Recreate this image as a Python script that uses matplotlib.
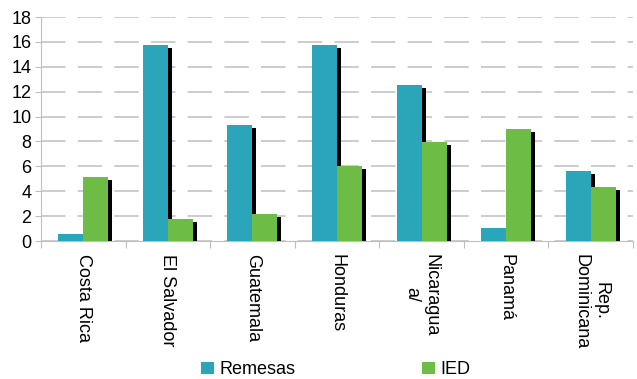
import matplotlib
matplotlib.use('Agg')
import matplotlib.pyplot as plt
import numpy as np

plt.rcParams['font.family'] = ['Liberation Sans', 'DejaVu Sans']

COUNTRIES = ['Costa Rica', 'El Salvador', 'Guatemala', 'Honduras',
             'Nicaragua\na/', 'Panamá', 'Rep.\nDominicana']
REMESAS = [0.6, 15.75, 9.3, 15.75, 12.55, 1.05, 5.65]
IED = [5.15, 1.75, 2.15, 6.0, 7.95, 9.0, 4.3]

TEAL = '#2ba5ba'
GREEN = '#6cbc45'
GRID = '#bfbfbf'

fig = plt.figure(figsize=(6.37, 3.79), dpi=100)
ax = fig.add_axes([41 / 637, 1 - 241 / 379, 592 / 637, 224 / 379])

x = np.arange(len(COUNTRIES))
w = 0.295
xr = x - w / 2
xi = x + w / 2

# drop shadows (offset right / down), drawn under every bar
dx, dy = 4 / 84.6, 3 / 12.44
for xs, vals in ((xr, REMESAS), (xi, IED)):
    hs = [max(v - dy, 0) for v in vals]
    ax.bar(xs + dx, hs, w, color='black', zorder=2)

ax.bar(xr, REMESAS, w, color=TEAL, label='Remesas', zorder=3)
ax.bar(xi, IED, w, color=GREEN, label='IED', zorder=3)

ax.set_xlim(-0.5, len(COUNTRIES) - 0.5)
ax.set_ylim(0, 18)
ax.set_yticks(range(0, 19, 2))
ax.yaxis.grid(True, linestyle=(0, (16, 8)), color=GRID, linewidth=1.1, zorder=0)
ax.set_axisbelow(True)

ax.set_xticks(np.arange(-0.5, len(COUNTRIES), 1.0))
ax.set_xticklabels([])
ax.set_xticks(x, minor=True)
ax.set_xticklabels(COUNTRIES, minor=True, rotation=270, va='top', ha='center',
                   multialignment='center')
ax.tick_params(axis='x', which='minor', length=0, pad=9, labelsize=13)
ax.tick_params(axis='x', which='major', length=5, color=GRID)
ax.tick_params(axis='y', length=4, color=GRID, labelsize=13, pad=3)

for s in ('top', 'right'):
    ax.spines[s].set_visible(False)
for s in ('left', 'bottom'):
    ax.spines[s].set_color(GRID)

fig.legend(loc='center', bbox_to_anchor=(0.527, 0.024), ncol=2, frameon=False,
           fontsize=13, handlelength=0.7, handleheight=0.7, handletextpad=0.3,
           columnspacing=7, borderpad=0.1)

fig.savefig('out.png', dpi=100)
